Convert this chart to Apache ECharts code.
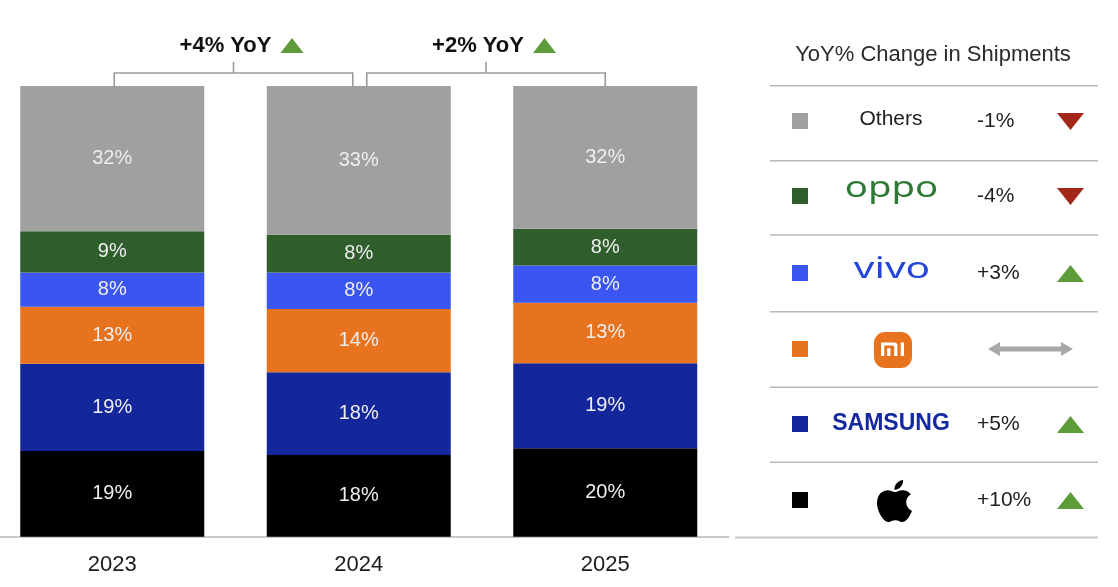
<!DOCTYPE html>
<html>
<head>
<meta charset="utf-8">
<script src="https://cdn.jsdelivr.net/npm/echarts@6/dist/echarts.min.js"></script>
<style>
html,body{margin:0;padding:0;background:#fff;overflow:hidden;}
#chart{width:1129px;height:587px;margin-left:-11px;}
</style>
</head>
<body>
<div id="chart"></div>
<script>
// ---- data ----
const years = ['2023', '2024', '2025'];
const apple   = [19.0, 18.1, 19.6];
const samsung = [19.4, 18.4, 18.9];
const xiaomi  = [12.6, 14.0, 13.4];
const vivo    = [7.6, 8.1, 8.3];
const oppo    = [9.2, 8.4, 8.1];
const others  = [32.2, 33.0, 31.7];
const totalYoY = ['+4% YoY', '+2% YoY'];
const tableTitle = 'YoY% Change in Shipments';
const brandNames = ['Others', 'oppo', 'vivo', 'Xiaomi', 'SAMSUNG', 'Apple'];
const brandYoY   = ['-1%', '-4%', '+3%', '', '+5%', '+10%'];
const brandDir   = ['down', 'down', 'up', 'flat', 'up', 'up'];

const colors = {
  Apple: '#000000', SAMSUNG: '#14279a', Xiaomi: '#e8731f',
  vivo: '#3a55f0', oppo: '#2f5e2c', Others: '#a0a0a0'
};
const FONT = '"Liberation Sans", Arial, sans-serif';
const OX = 11; // chart canvas is shifted 11px left of the page
const px = x => x + OX;

const APPLE_PATH = 'M12.152 6.896c-.948 0-2.415-1.078-3.96-1.04-2.04.027-3.91 1.183-4.961 3.014-2.117 3.675-.546 9.103 1.519 12.09 1.013 1.454 2.208 3.09 3.792 3.039 1.52-.065 2.09-.987 3.935-.987 1.831 0 2.35.987 3.96.948 1.637-.026 2.676-1.48 3.676-2.948 1.156-1.688 1.636-3.325 1.662-3.415-.039-.013-3.182-1.221-3.22-4.857-.026-3.04 2.48-4.494 2.597-4.559-1.429-2.09-3.623-2.324-4.39-2.376-2-.156-3.675 1.09-4.61 1.09zM15.53 3.83c.843-1.012 1.4-2.427 1.245-3.83-1.207.052-2.662.805-3.532 1.818-.78.896-1.454 2.338-1.273 3.714 1.338.104 2.715-.688 3.559-1.701';
const MI_PATH = 'M0 0 H12 Q15 0 15 3 V14 H12 V4.5 Q12 3 10.5 3 H3 V14 H0 Z M5.6 6 H8.6 V14 H5.6 Z M18 0 H21 V14 H18 Z';

const chart = echarts.init(document.getElementById('chart'));

function mkSeries(name, data) {
  return {
    name: name, type: 'bar', stack: 'total', data: data,
    barWidth: 184,
    itemStyle: { color: colors[name] },
    label: {
      show: true, position: 'inside', color: '#eeeeee',
      fontFamily: FONT, fontSize: 20,
      formatter: p => Math.round(p.value) + '%'
    },
    emphasis: { disabled: true },
    silent: true
  };
}

const rowLines = [85.7, 160.7, 235, 311.7, 387.3, 462.3];
const rowCenters = [121, 196, 273, 349, 424, 500];

// logos drawn via a custom series (paths)
const logoSeries = {
  type: 'custom', coordinateSystem: 'none', data: [0], silent: true,
  renderItem: function () {
    const yMi = rowCenters[3], yAp = rowCenters[5];
    return {
      type: 'group',
      children: [
        { type: 'rect', shape: { x: px(874), y: yMi - 17, width: 38, height: 36, r: 11 }, style: { fill: '#e8731f' } },
        { type: 'path', shape: { pathData: MI_PATH, x: px(881), y: yMi - 6.5, width: 23, height: 13.5, layout: 'cover' }, style: { fill: '#ffffff' } },
        { type: 'path', shape: { pathData: APPLE_PATH, x: px(877), y: yAp - 20, width: 35, height: 42, layout: 'cover' }, style: { fill: '#000000' } }
      ]
    };
  }
};

chart.setOption({
  animation: false,
  backgroundColor: '#ffffff',
  grid: { left: 0, right: 1129 - 739.5, top: 86, bottom: 50.3, containLabel: false },
  xAxis: {
    type: 'category', data: years,
    axisLine: { show: true, lineStyle: { color: '#c8c8c8', width: 2 } },
    axisTick: { show: false },
    axisLabel: { color: '#1c1c1c', fontFamily: FONT, fontSize: 22, margin: 17 }
  },
  yAxis: { type: 'value', min: 0, max: 100, show: false },
  series: [
    mkSeries('Apple', apple),
    mkSeries('SAMSUNG', samsung),
    mkSeries('Xiaomi', xiaomi),
    mkSeries('vivo', vivo),
    mkSeries('oppo', oppo),
    mkSeries('Others', others),
    logoSeries
  ]
});

// ---- annotations (brackets computed from axis) ----
const cx = years.map((y, i) => chart.convertToPixel({ xAxisIndex: 0 }, i));
const topY = chart.convertToPixel({ yAxisIndex: 0 }, 100);
const g = [];
const lineStyle = { stroke: '#9a9a9a', lineWidth: 1.6 };
function bracket(x1, x2, label) {
  const hy = topY - 13;
  const mid = (x1 + x2) / 2;
  g.push({ type: 'polyline', shape: { points: [[x1, topY], [x1, hy], [x2, hy], [x2, topY]] }, style: Object.assign({ fill: null }, lineStyle), silent: true });
  g.push({ type: 'line', shape: { x1: mid, y1: hy, x2: mid, y2: hy - 11 }, style: lineStyle, silent: true });
  g.push({ type: 'text', x: mid - 8, y: 46, style: { text: label, font: 'bold 22px ' + FONT, fill: '#111', align: 'center', verticalAlign: 'middle' }, silent: true });
  const tx = mid + 47;
  g.push({ type: 'polygon', shape: { points: [[tx, 53], [tx + 23, 53], [tx + 11.5, 38]] }, style: { fill: '#5e9c3a' }, silent: true });
}
bracket(cx[0] + 2, cx[1] - 6, totalYoY[0]);
bracket(cx[1] + 8, cx[2], totalYoY[1]);

// ---- right-hand table ----
g.push({ type: 'text', x: px(933), y: 55, style: { text: tableTitle, font: '22px ' + FONT, fill: '#2a2a2a', align: 'center', verticalAlign: 'middle' }, silent: true });
rowLines.forEach(y => g.push({ type: 'line', shape: { x1: px(770), y1: y, x2: px(1098), y2: y }, style: { stroke: '#b8b8b8', lineWidth: 1.6 }, silent: true }));
g.push({ type: 'line', shape: { x1: px(735), y1: 537.5, x2: px(1098), y2: 537.5 }, style: { stroke: '#c8c8c8', lineWidth: 2 }, silent: true });

const LOGO_FONT = '400 29px "Noto Sans", "Open Sans", sans-serif';
brandNames.forEach((name, i) => {
  const y = rowCenters[i];
  g.push({ type: 'rect', shape: { x: px(792), y: y - 8, width: 16, height: 16 }, style: { fill: colors[name] }, silent: true });
  if (name === 'Others') {
    g.push({ type: 'text', x: px(891), y: y - 2, style: { text: 'Others', font: '21px ' + FONT, fill: '#222', align: 'center', verticalAlign: 'middle' }, silent: true });
  } else if (name === 'oppo') {
    g.push({ type: 'text', x: px(891.5), y: y - 7, scaleX: 1.32, originX: 0, originY: 0, style: { text: 'oppo', font: LOGO_FONT, fill: '#2e7a35', align: 'center', verticalAlign: 'middle' }, silent: true });
  } else if (name === 'vivo') {
    g.push({ type: 'text', x: px(892), y: y - 3, scaleX: 1.4, originX: 0, originY: 0, style: { text: 'vivo', font: LOGO_FONT, fill: '#2446d8', align: 'center', verticalAlign: 'middle' }, silent: true });
  } else if (name === 'SAMSUNG') {
    g.push({ type: 'text', x: px(891), y: y, style: { text: 'SAMSUNG', font: 'bold 23px ' + FONT, fill: '#1428a0', align: 'center', verticalAlign: 'middle' }, silent: true });
  }
  if (brandYoY[i]) {
    g.push({ type: 'text', x: px(977), y: y, style: { text: brandYoY[i], font: '21px ' + FONT, fill: '#222', align: 'left', verticalAlign: 'middle' }, silent: true });
  }
  if (brandDir[i] === 'down') {
    g.push({ type: 'polygon', shape: { points: [[px(1057), y - 8], [px(1084), y - 8], [px(1070.5), y + 9]] }, style: { fill: '#a3281a' }, silent: true });
  } else if (brandDir[i] === 'up') {
    g.push({ type: 'polygon', shape: { points: [[px(1057), y + 9], [px(1084), y + 9], [px(1070.5), y - 8]] }, style: { fill: '#5e9c3a' }, silent: true });
  } else {
    const a = px(988), b = px(1073), h = 2.5, hh = 7, hl = 12;
    g.push({ type: 'polygon', shape: { points: [[a, y], [a + hl, y - hh], [a + hl, y - h], [b - hl, y - h], [b - hl, y - hh], [b, y], [b - hl, y + hh], [b - hl, y + h], [a + hl, y + h], [a + hl, y + hh]] }, style: { fill: '#a8a8a8' }, silent: true });
  }
});

chart.setOption({ graphic: { elements: g } });
</script>
</body>
</html>
